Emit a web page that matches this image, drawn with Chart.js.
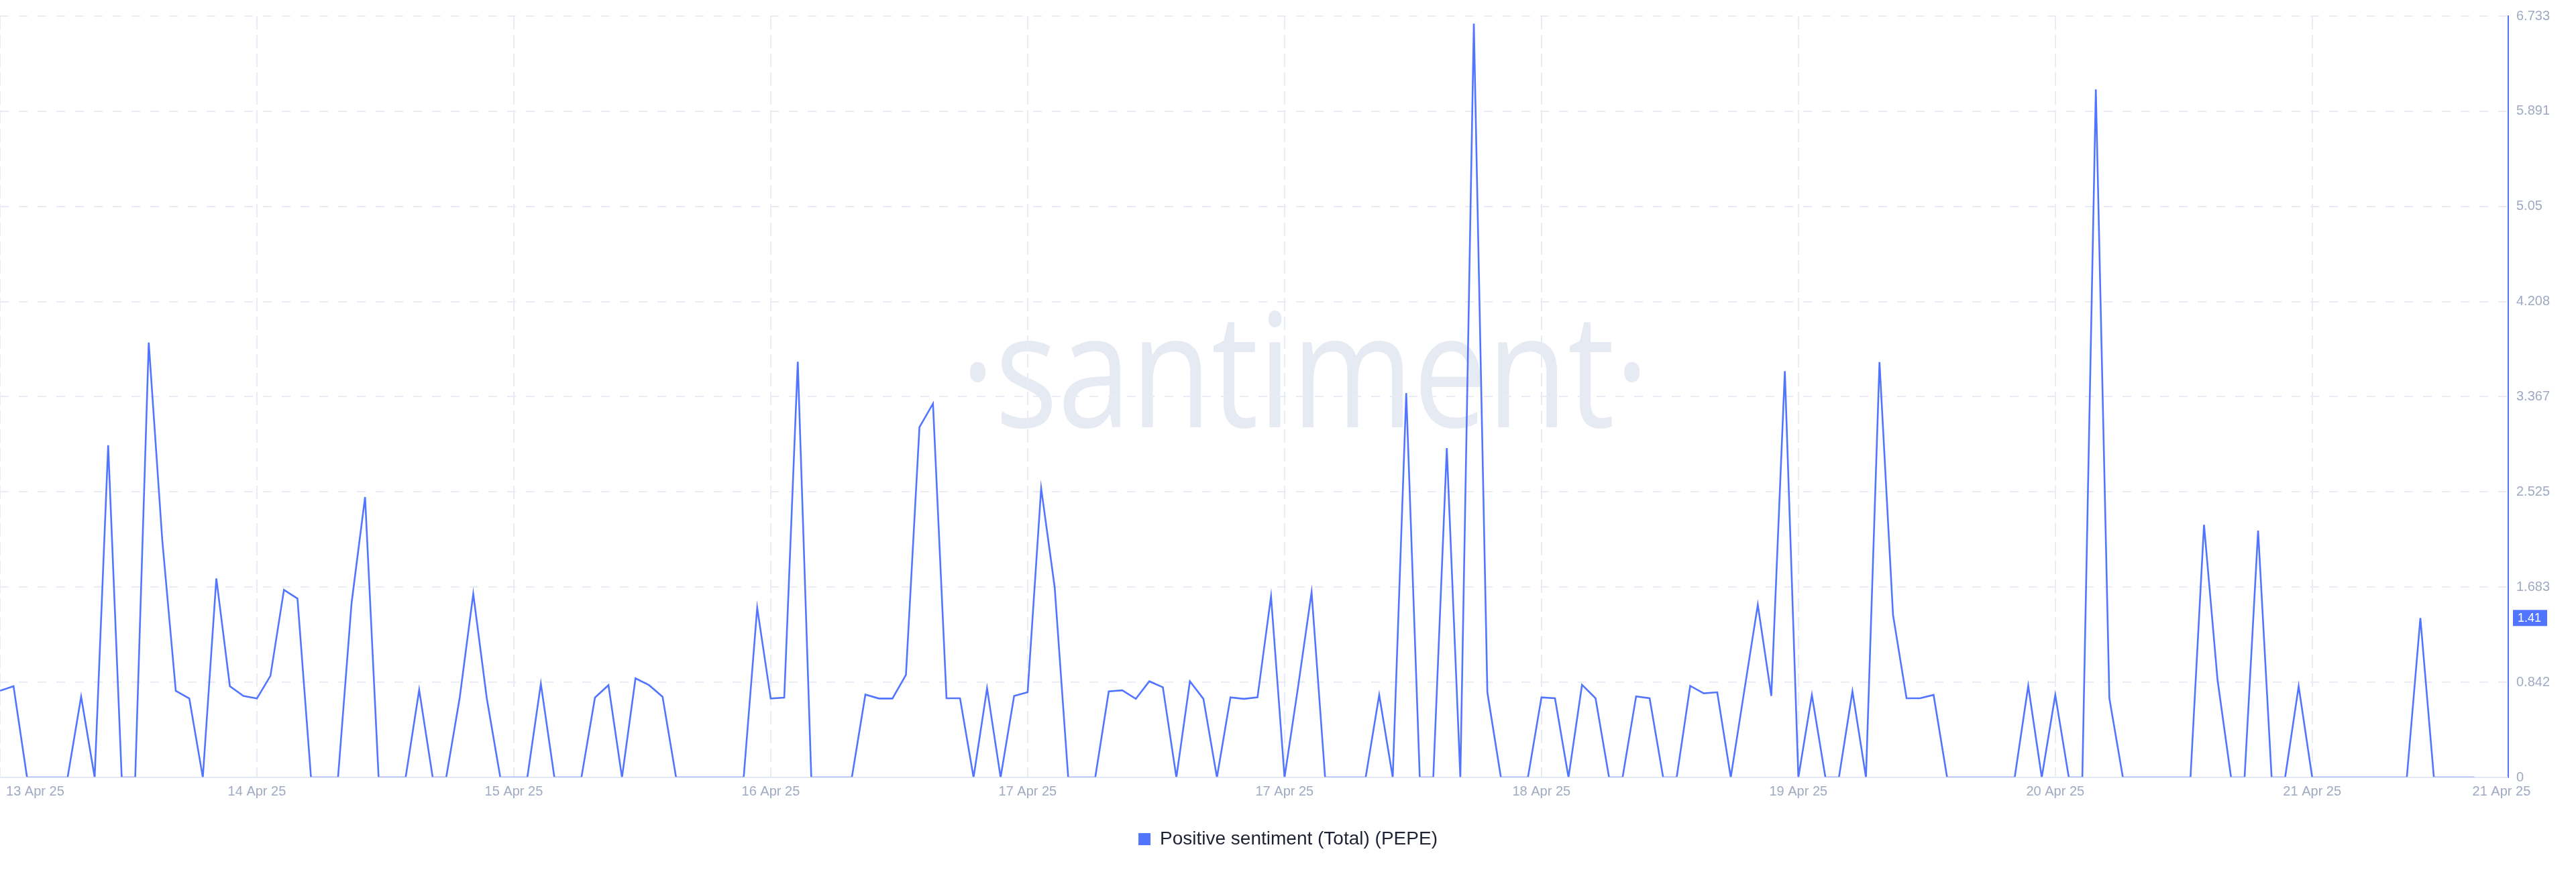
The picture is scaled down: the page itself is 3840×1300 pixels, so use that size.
<!DOCTYPE html>
<html>
<head>
<meta charset="utf-8">
<script src="https://cdn.jsdelivr.net/npm/chart.js@4.4.1/dist/chart.umd.min.js"></script>
<style>
  html, body { margin: 0; padding: 0; background: #ffffff; }
  #wrap { width: 3840px; height: 1300px; position: relative; }
</style>
</head>
<body>
<div id="wrap"><canvas id="chart"></canvas></div>
<script>
// ---------- data ----------
const seriesLabel = 'Positive sentiment (Total) (PEPE)';

const sentimentValues = [
  0.766, 0.807, 0, 0, 0, 0, 0.714, 0, 2.937, 0,
  0, 3.846, 2.1, 0.766, 0.698, 0, 1.76, 0.807, 0.72, 0.698,
  0.898, 1.659, 1.582, 0, 0, 0, 1.541, 2.48, 0, 0,
  0, 0.774, 0, 0, 0.706, 1.623, 0.70, 0, 0, 0,
  0.829, 0, 0, 0, 0.706, 0.816, 0, 0.876, 0.816, 0.714,
  0, 0, 0, 0, 0, 0, 1.50, 0.698, 0.706, 3.676,
  0, 0, 0, 0, 0.733, 0.698, 0.698, 0.907, 3.098, 3.306,
  0.70, 0.70, 0, 0.788, 0, 0.721, 0.753, 2.558, 1.682, 0,
  0, 0, 0.761, 0.77, 0.695, 0.85, 0.797, 0, 0.85, 0.695,
  0, 0.708, 0.695, 0.708, 1.602, 0, 0.8, 1.638, 0, 0,
  0, 0, 0.73, 0, 3.399, 0, 0, 2.912, 0, 6.666,
  0.753, 0, 0, 0, 0.708, 0.70, 0, 0.819, 0.70, 0,
  0, 0.717, 0.70, 0, 0, 0.81, 0.744, 0.753, 0, 0.766,
  1.527, 0.721, 3.593, 0, 0.73, 0, 0, 0.761, 0, 3.673,
  1.438, 0.70, 0.70, 0.73, 0, 0, 0, 0, 0, 0,
  0.81, 0, 0.73, 0, 0, 6.085, 0.70, 0, 0, 0,
  0, 0, 0, 2.235, 0.863, 0, 0, 2.182, 0, 0,
  0.806, 0, 0, 0, 0, 0, 0, 0, 0, 1.41,
  0, 0, 0, 0
];

const yTickValues = [0, 0.842, 1.683, 2.525, 3.367, 4.208, 5.05, 5.891, 6.733];
const yTickLabels = ['0', '0.842', '1.683', '2.525', '3.367', '4.208', '5.05', '5.891', '6.733'];

// sample index of each day boundary (vertical grid lines)
const dayGridIndex = [0, 19, 38, 57, 76, 95, 114, 133, 152, 171];
// sample index where each date label sits
const xLabelIndex = [2.6, 19, 38, 57, 76, 95, 114, 133, 152, 171, 185];
const xTickLabels = ['13 Apr 25', '14 Apr 25', '15 Apr 25', '16 Apr 25', '17 Apr 25',
                     '17 Apr 25', '18 Apr 25', '19 Apr 25', '20 Apr 25', '21 Apr 25', '21 Apr 25'];
const xRangeMax = 185.5;

const latestValue = 1.41;
const latestLabel = '1.41';
const watermarkText = '\u00B7santiment\u00B7';

// ---------- styling ----------
const BLUE = '#5275ff';
const GRID = '#e9ecf4';
const TICK_COLOR = '#9faac2';
const FONT = '"Liberation Sans", Arial, Helvetica, sans-serif';

const xTickValues = Array.from(new Set(dayGridIndex.concat(xLabelIndex))).sort((a, b) => a - b);

const decorPlugin = {
  id: 'decor',
  beforeDraw(chart) {
    const { ctx, chartArea: a } = chart;
    ctx.save();
    ctx.font = '237px "Open Sans", "Noto Sans", sans-serif';
    ctx.fillStyle = '#e6eaf3';
    ctx.textBaseline = 'alphabetic';
    ctx.textAlign = 'left';
    const m = ctx.measureText(watermarkText);
    const w = m.actualBoundingBoxLeft + m.actualBoundingBoxRight;
    const targetW = a.width * 0.267;
    const sx = targetW / w;
    const left = a.left + a.width * 0.3867;
    const base = a.top + a.height * 0.5397;
    ctx.translate(left, base);
    ctx.scale(sx, 1);
    ctx.fillText(watermarkText, m.actualBoundingBoxLeft, 0);
    ctx.restore();
  },
  afterDatasetsDraw(chart) {
    const { ctx, chartArea: a } = chart;
    const y0 = chart.scales.y.getPixelForValue(0);
    ctx.save();
    ctx.strokeStyle = 'rgba(228,232,242,0.7)';
    ctx.lineWidth = 2;
    ctx.beginPath();
    ctx.moveTo(a.left, y0);
    ctx.lineTo(a.right, y0);
    ctx.stroke();
    ctx.restore();
  },
  afterDraw(chart) {
    const { ctx, chartArea: a } = chart;
    const y = chart.scales.y.getPixelForValue(latestValue);
    const x = a.right + 7;
    ctx.save();
    ctx.fillStyle = BLUE;
    ctx.fillRect(x, y - 12, 51, 24);
    ctx.fillStyle = '#ffffff';
    ctx.font = '18px ' + FONT;
    ctx.textBaseline = 'middle';
    ctx.textAlign = 'left';
    ctx.fillText(latestLabel, x + 7, y + 1);
    ctx.restore();
  }
};

const ctx = document.getElementById('chart').getContext('2d');
new Chart(ctx, {
  type: 'line',
  data: {
    datasets: [{
      label: seriesLabel,
      data: sentimentValues.map((v, i) => ({ x: i, y: v })),
      borderColor: BLUE,
      backgroundColor: BLUE,
      borderWidth: 2.6,
      pointRadius: 0,
      pointHoverRadius: 0,
      tension: 0,
      fill: false,
      borderJoinStyle: 'miter'
    }]
  },
  options: {
    responsive: true,
    maintainAspectRatio: false,
    animation: false,
    events: [],
    layout: { padding: { top: 14, bottom: 25, left: 0, right: 0 } },
    plugins: {
      tooltip: { enabled: false },
      legend: {
        display: true,
        position: 'bottom',
        labels: {
          color: '#1f2233',
          font: { family: FONT, size: 28 },
          boxWidth: 18,
          boxHeight: 18,
          padding: 10,
          generateLabels(chart) {
            const items = Chart.defaults.plugins.legend.labels.generateLabels(chart);
            items.forEach(it => { it.lineWidth = 0; it.fillStyle = BLUE; it.strokeStyle = BLUE; });
            return items;
          }
        }
      }
    },
    scales: {
      x: {
        type: 'linear',
        min: 0,
        max: xRangeMax,
        afterBuildTicks(scale) {
          scale.ticks = xTickValues.map(v => ({ value: v }));
        },
        afterFit(scale) {
          scale.height = 68;
          scale.paddingLeft = 0;
          scale.paddingRight = 0;
        },
        ticks: {
          autoSkip: false,
          maxRotation: 0,
          minRotation: 0,
          padding: 9,
          color: TICK_COLOR,
          font: { family: FONT, size: 20 },
          callback(value) {
            const k = xLabelIndex.indexOf(value);
            return k >= 0 ? xTickLabels[k] : '';
          }
        },
        grid: {
          drawTicks: false,
          lineWidth: 2,
          color(c) {
            return (c.tick && dayGridIndex.includes(c.tick.value)) ? GRID : 'rgba(0,0,0,0)';
          }
        },
        border: { display: true, color: '#e4e8f1', width: 2, dash: [20, 8] }
      },
      y: {
        type: 'linear',
        position: 'right',
        min: 0,
        max: yTickValues[yTickValues.length - 1],
        afterBuildTicks(scale) {
          scale.ticks = yTickValues.map(v => ({ value: v }));
        },
        afterFit(scale) {
          scale.width = 101;
        },
        ticks: {
          padding: 12,
          color: TICK_COLOR,
          font: { family: FONT, size: 20 },
          callback(value, index) { return yTickLabels[index]; }
        },
        grid: {
          drawTicks: false,
          lineWidth: 2,
          color: GRID
        },
        border: { display: true, color: BLUE, width: 2, dash: [13, 15] }
      }
    }
  },
  plugins: [decorPlugin]
});
</script>
</body>
</html>
